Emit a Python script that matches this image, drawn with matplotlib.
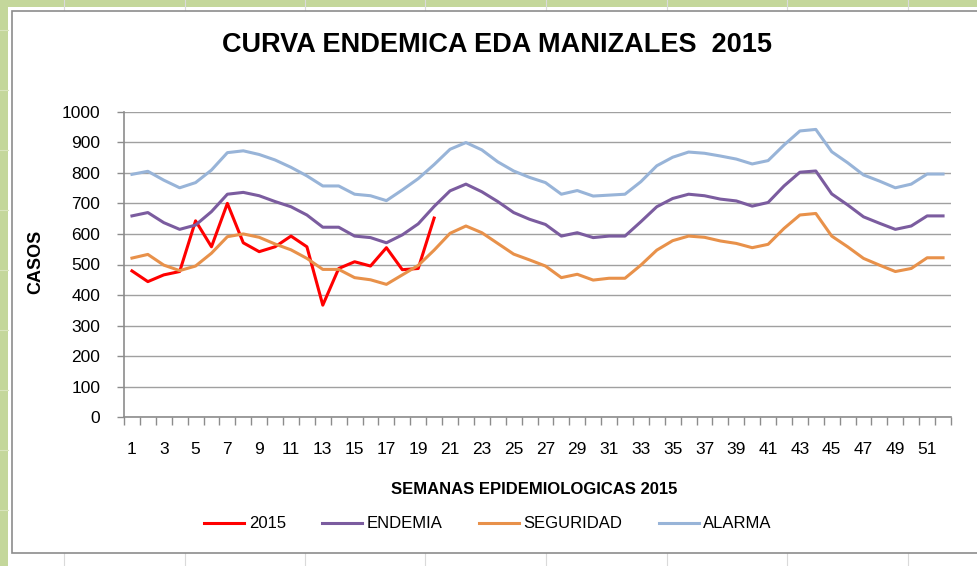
import numpy as np
import matplotlib
matplotlib.use('Agg')
import matplotlib.pyplot as plt
from matplotlib.patches import Rectangle
from matplotlib.lines import Line2D

plt.rcParams['font.family'] = ['Liberation Sans', 'DejaVu Sans']

weeks = np.arange(1, 53)

casos_2015 = [479, 444, 466, 477, 643, 558, 700, 571, 542, 558,
              593, 558, 367, 487, 509, 495, 555, 483, 487, 652]

endemia = [659, 670, 637, 615, 629, 673, 730, 736, 725, 706,
           689, 662, 622, 622, 593, 588, 571, 597, 633, 690,
           741, 763, 738, 706, 670, 648, 631, 593, 604, 588,
           593, 593, 640, 689, 716, 730, 725, 714, 708, 691,
           703, 757, 802, 806, 731, 695, 656, 635, 615, 626,
           659, 659]

seguridad = [521, 533, 498, 480, 495, 537, 591, 600, 589, 567,
             548, 520, 484, 484, 457, 450, 435, 466, 497, 547,
             602, 626, 604, 569, 534, 515, 495, 457, 468, 449,
             455, 455, 498, 547, 578, 593, 589, 577, 569, 555,
             566, 618, 662, 667, 593, 558, 520, 498, 477, 487,
             522, 522]

alarma = [795, 805, 776, 751, 768, 809, 866, 872, 860, 842,
          818, 790, 757, 757, 730, 725, 709, 744, 781, 827,
          877, 899, 875, 836, 806, 785, 768, 730, 742, 724,
          727, 730, 771, 823, 851, 868, 864, 855, 845, 829,
          840, 891, 937, 942, 869, 833, 793, 773, 751, 763,
          796, 796]

fig = plt.figure(figsize=(9.77, 5.66), dpi=100)
W, H = 977, 566

# spreadsheet behind the chart: green header strips, faint cell lines, chart frame
fig.patches.append(Rectangle((0, 1 - 7 / H), 1, 7 / H, transform=fig.transFigure,
                             facecolor='#c4d79b', edgecolor='none', zorder=0))
fig.patches.append(Rectangle((0, 0), 8 / W, 1, transform=fig.transFigure,
                             facecolor='#c4d79b', edgecolor='none', zorder=0))
for cx in [64, 185, 305, 425, 546, 667, 787, 908]:
    fig.lines.append(Line2D([cx / W, cx / W], [0, 1], transform=fig.transFigure,
                            color='#dadada', lw=0.8, zorder=0.5))
for cy in [30, 90, 150, 210, 270, 330, 390, 450, 510]:
    fig.lines.append(Line2D([0, 8 / W], [1 - cy / H, 1 - cy / H], transform=fig.transFigure,
                            color='#d8e4bc', lw=0.8, zorder=0.5))
fig.patches.append(Rectangle((12 / W, 1 - 553 / H), 1.0, (553 - 11) / H,
                             transform=fig.transFigure, facecolor='white',
                             edgecolor='#8c8c8c', linewidth=1.2, zorder=1))

ax = fig.add_axes([124 / W, 1 - 417.3 / H, (951 - 124) / W, (417.3 - 111.7) / H])
ax.set_zorder(2)
ax.patch.set_alpha(0)

ax.plot(weeks[:len(casos_2015)], casos_2015, color='#ff0000', lw=2.2, label='2015')
ax.plot(weeks, endemia, color='#7b5c9f', lw=2.2, label='ENDEMIA')
ax.plot(weeks, seguridad, color='#e8914a', lw=2.2, label='SEGURIDAD')
ax.plot(weeks, alarma, color='#98b4d8', lw=2.2, label='ALARMA')

ax.set_xlim(0.5, 52.5)
ax.set_ylim(0, 1000)
ax.set_yticks(np.arange(0, 1001, 100))
ax.grid(axis='y', color='#a0a0a0', lw=1.0)
ax.set_axisbelow(True)

ax.set_xticks(np.arange(1, 53, 2))
ax.set_xticks(np.arange(0.5, 53, 1), minor=True)
ax.tick_params(axis='x', which='major', length=0, pad=18, labelsize=12.5)
ax.tick_params(axis='x', which='minor', length=5.5, color='#8c8c8c', width=1)
ax.tick_params(axis='y', length=5, color='#8c8c8c', width=1, labelsize=12.5, pad=12)

for s in ['top', 'right']:
    ax.spines[s].set_visible(False)
for s in ['left', 'bottom']:
    ax.spines[s].set_color('#8c8c8c')
    ax.spines[s].set_linewidth(1.2)

fig.text(497 / W, 1 - 45 / H, 'CURVA ENDEMICA EDA MANIZALES  2015', ha='center', va='center',
         fontsize=19.5, fontweight='bold')
fig.text(36 / W, 1 - 262 / H, 'CASOS', rotation=90, ha='center', va='center',
         fontsize=13, fontweight='bold')
fig.text(534 / W, 1 - 490 / H, 'SEMANAS EPIDEMIOLOGICAS 2015', ha='center', va='center',
         fontsize=12, fontweight='bold')

fig.legend(loc='center', bbox_to_anchor=(488 / W, 1 - 524 / H), ncol=4, frameon=False,
           fontsize=12, handlelength=2.4, handletextpad=0.25, columnspacing=2.2)

fig.savefig('out.png', dpi=100, facecolor='white')
